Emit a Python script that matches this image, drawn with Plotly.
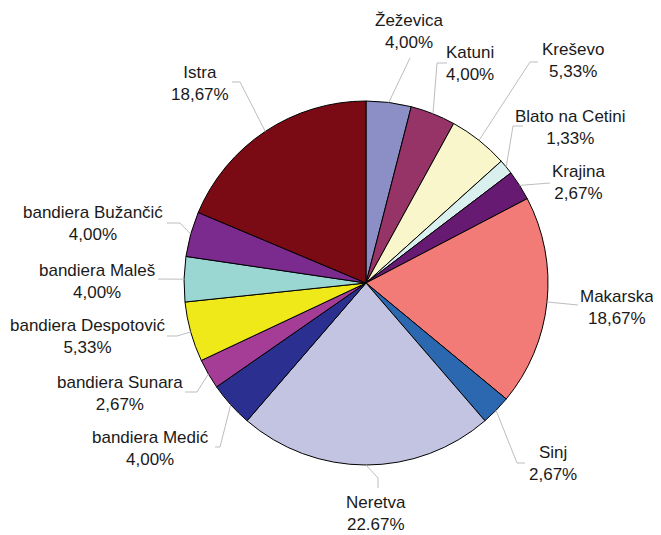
import math
import plotly.graph_objects as go

labels = ["Žeževica", "Katuni", "Kreševo", "Blato na Cetini", "Krajina", "Makarska",
          "Sinj", "Neretva", "bandiera Medić", "bandiera Sunara", "bandiera Despotović",
          "bandiera Maleš", "bandiera Bužančić", "Istra"]
values = [4.00, 4.00, 5.33, 1.33, 2.67, 18.67, 2.67, 22.67, 4.00, 2.67, 5.33, 4.00, 4.00, 18.67]
pct_text = ["4,00%", "4,00%", "5,33%", "1,33%", "2,67%", "18,67%", "2,67%", "22.67%",
            "4,00%", "2,67%", "5,33%", "4,00%", "4,00%", "18,67%"]
colors = ["#8C8FC6", "#963468", "#FAF6CC", "#D9F0EE", "#661A72", "#F27B78", "#2C68B0",
          "#C2C4E2", "#2B2F8F", "#A53C96", "#F0E91A", "#9AD6D2", "#7B2A8E", "#7A0A14"]

W, H = 661, 535
OFF = 8  # page body margin offset
CX, CY, R = 366, 283, 182

# label text centre (page px) and leader-line path points (page px), layout only
label_pos = [(410, 32), (470, 63), (573, 61), (570, 127), (578, 183), (617, 307),
             (553, 463), (376, 513), (150, 448), (120, 393), (87, 336), (97, 281),
             (93, 224), (200, 83)]
leader_pts = [
    [(410, 58)],
    [(437, 63), (447, 63)],
    [(530, 62), (538, 62)],
    [(513, 126), (523, 126)],
    [(550, 183)],
    [(578, 305)],
    [(517, 463), (525, 463)],
    [(378, 478), (378, 488)],
    [(220, 447), (215, 447)],
    [(197, 392), (185, 392)],
    [(177, 336), (167, 336)],
    [(158, 279)],
    [(180, 223), (167, 223)],
    [(240, 82), (232, 82)],
]

def px(x, y):
    return (x - OFF) / W, 1 - (y - OFF) / H

fig = go.Figure(go.Pie(
    labels=labels, values=values, sort=False, direction="clockwise", rotation=0,
    marker=dict(colors=colors, line=dict(color="#000000", width=1)),
    textinfo="none", hoverinfo="label+percent", showlegend=False,
    domain=dict(x=[(CX - OFF - R) / W, (CX - OFF + R) / W],
                y=[(H - (CY - OFF) - R) / H, (H - (CY - OFF) + R) / H]),
))

total = sum(values)
cum = 0
shapes = []
annotations = []
for i, v in enumerate(values):
    mid = (cum + v / 2) / total * 2 * math.pi
    cum += v
    sx = CX + R * math.sin(mid)
    sy = CY - R * math.cos(mid)
    pts = [(sx, sy)] + leader_pts[i]
    for (x0, y0), (x1, y1) in zip(pts[:-1], pts[1:]):
        a0, b0 = px(x0, y0)
        a1, b1 = px(x1, y1)
        shapes.append(dict(type="line", xref="paper", yref="paper", x0=a0, y0=b0, x1=a1, y1=b1,
                           line=dict(color="#BDBDBD", width=1)))
    lx, ly = px(*label_pos[i])
    annotations.append(dict(x=lx, y=ly, xref="paper", yref="paper", showarrow=False,
                            text=labels[i] + "<br>" + pct_text[i], align="center",
                            xanchor="center", yanchor="middle",
                            font=dict(family="Liberation Sans, Arial, sans-serif", size=17,
                                      color="#1A1A1A")))

fig.update_layout(width=W, height=H, margin=dict(l=0, r=0, t=0, b=0),
                  paper_bgcolor="white", plot_bgcolor="white",
                  shapes=shapes, annotations=annotations)
fig.write_html("out.html")
